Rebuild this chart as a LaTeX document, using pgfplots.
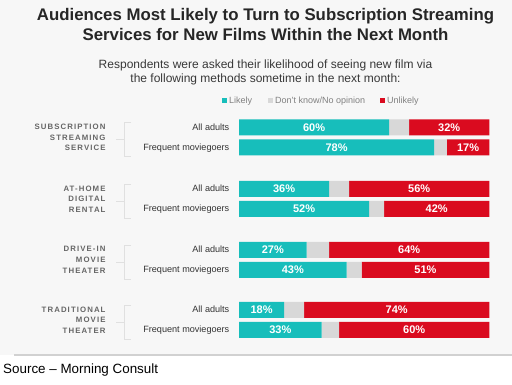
\documentclass[border=0pt]{standalone}
\usepackage{pgfplots}
\pgfplotsset{compat=1.18}
\usepackage{fontspec}
\setmainfont{Liberation Sans}
\definecolor{tealc}{HTML}{17BEBB}
\definecolor{redc}{HTML}{DA0B1F}
\definecolor{greyc}{HTML}{D8D8D8}
\definecolor{bgc}{HTML}{F7F7F7}
\begin{document}
\begin{tikzpicture}[x=1pt,y=1pt]
\path[use as bounding box] (0,0) rectangle (512,385);
\fill[white] (0,0) rectangle (512,385);
\fill[bgc] (0,30) rectangle (512,385);
\draw[color=black!18, line width=1.5pt] (14,30) -- (512,30);
% titles
\node[anchor=base, font=\bfseries\fontsize{16.8}{18}\selectfont, text=black!85, inner sep=0] at (265.5,364.3) {Audiences Most Likely to Turn to Subscription Streaming};
\node[anchor=base, font=\bfseries\fontsize{16.8}{18}\selectfont, text=black!85, inner sep=0] at (265.5,344.3) {Services for New Films Within the Next Month};
\node[anchor=base, font=\fontsize{12}{12}\selectfont, text=black!78, inner sep=0] at (265.5,316.3) {Respondents were asked their likelihood of seeing new film via};
\node[anchor=base, font=\fontsize{12}{12}\selectfont, text=black!78, inner sep=0] at (265.5,302.3) {the following methods sometime in the next month:};
% legend
\fill[tealc] (222,282.3) rectangle (226.5,286.8);
\node[anchor=base west, font=\fontsize{9}{9}\selectfont, text=black!50, inner sep=0] at (229,281.3) {Likely};
\fill[greyc] (268,282.3) rectangle (272.5,286.8);
\node[anchor=base west, font=\fontsize{9}{9}\selectfont, text=black!50, inner sep=0] at (275,281.3) {Don't know/No opinion};
\fill[redc] (380,282.3) rectangle (384.5,286.8);
\node[anchor=base west, font=\fontsize{9}{9}\selectfont, text=black!50, inner sep=0] at (387,281.3) {Unlikely};
% group labels
\foreach \yc/\txt in {247.5/{SUBSCRIPTION\\STREAMING\\SERVICE}, 186/{AT-HOME\\DIGITAL\\RENTAL}, 125/{DRIVE-IN\\MOVIE\\THEATER}, 65/{TRADITIONAL\\MOVIE\\THEATER}}{
  \node[anchor=east, align=right, inner sep=0, text=black!60, font=\bfseries\addfontfeatures{LetterSpace=14}\fontsize{7.8}{10.7}\selectfont] at (105.7,\yc) {\txt};
  \draw[black!12, line width=0.8pt] (131,\yc+15) -- (124,\yc+15) -- (124,\yc-19) -- (131,\yc-19);
  \draw[black!12, line width=0.8pt] (124,\yc-2) -- (116,\yc-2);
}
% row labels
\foreach \yy/\txt in {257.5/All adults, 237.5/Frequent moviegoers, 196/All adults, 176/Frequent moviegoers, 135/All adults, 115/Frequent moviegoers, 75/All adults, 55/Frequent moviegoers}{
  \node[anchor=mid east, inner sep=0, text=black!80, font=\fontsize{9.1}{10}\selectfont] at (229.5,\yy) {\txt};
}
% source
\node[anchor=base west, inner sep=0, font=\fontsize{13.4}{14}\selectfont] at (3,11.5) {Source -- Morning Consult};
\begin{axis}[at={(239pt,0pt)}, anchor=south west, x=2.503pt, y=1pt,
  xmin=0, xmax=100, ymin=0, ymax=385, hide axis, clip=false,
  xbar stacked, bar width=16pt,
  every axis plot/.append style={draw=none}]
\addplot[fill=tealc] coordinates {(60,257.5) (78,237.5) (36,196) (52,176) (27,135) (43,115) (18,75) (33,55)};
\addplot[fill=greyc] coordinates {(8,257.5) (5,237.5) (8,196) (6,176) (9,135) (6,115) (8,75) (7,55)};
\addplot[fill=redc] coordinates {(32,257.5) (17,237.5) (56,196) (42,176) (64,135) (51,115) (74,75) (60,55)};
\end{axis}
\begin{axis}[at={(239pt,0pt)}, anchor=south west, x=2.503pt, y=1pt,
  xmin=0, xmax=100, ymin=0, ymax=385, hide axis, clip=false,
  nodes near coords={\pgfplotspointmeta},
  point meta=explicit symbolic,
  nodes near coords style={anchor=center, inner sep=0, font=\bfseries\fontsize{11}{11}\selectfont, text=white}]
\addplot[only marks, mark=none] coordinates {(30,257.5)[60\%] (39,237.5)[78\%] (18,196)[36\%] (26,176)[52\%] (13.5,135)[27\%] (21.5,115)[43\%] (9,75)[18\%] (16.5,55)[33\%]};
\addplot[only marks, mark=none] coordinates {(84,257.5)[32\%] (91.5,237.5)[17\%] (72,196)[56\%] (79,176)[42\%] (68,135)[64\%] (74.5,115)[51\%] (63,75)[74\%] (70,55)[60\%]};
\end{axis}
\end{tikzpicture}
\end{document}
